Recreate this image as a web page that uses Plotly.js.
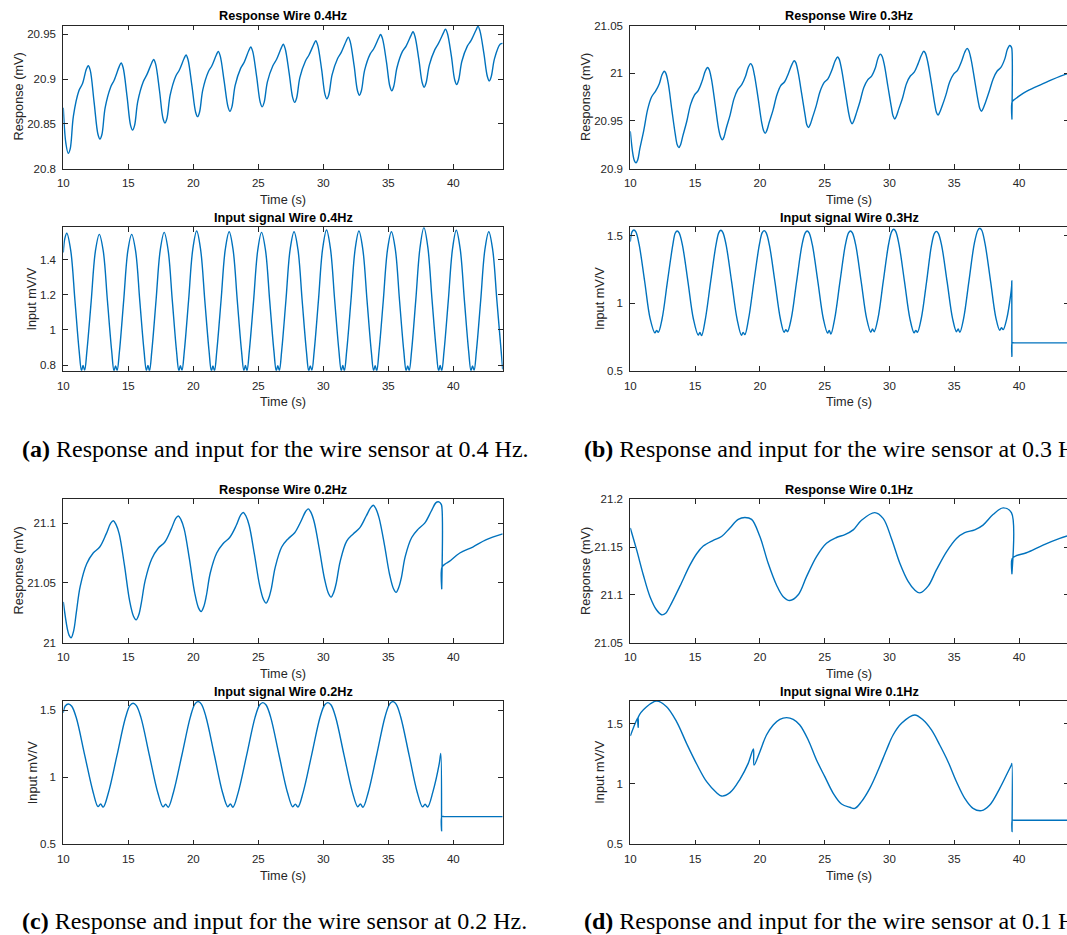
<!DOCTYPE html>
<html><head><meta charset="utf-8">
<script src="https://cdn.plot.ly/plotly-3.0.1.min.js"></script>
<style>html,body{margin:0;padding:0;overflow:hidden;background:#fff}#chart{width:1072px;height:935px}</style>
</head><body><div id="chart"></div>
<script>
// ---------- (a) 0.4 Hz ----------
const tRespA = [10.0, 10.2,
 10.38, 10.53, 10.78, 11.2, 11.48, 11.77, 11.92, 12.07, 12.37, 12.67,
 12.82, 12.97, 13.22, 13.64, 13.92, 14.3, 14.45, 14.6, 14.9, 15.18,
 15.33, 15.48, 15.73, 16.15, 16.43, 16.8, 16.95, 17.1, 17.4, 17.67,
 17.82, 17.97, 18.22, 18.64, 18.92, 19.29, 19.44, 19.59, 19.89, 20.18,
 20.33, 20.48, 20.73, 21.15, 21.43, 21.77, 21.92, 22.07, 22.37, 22.67,
 22.82, 22.97, 23.22, 23.64, 23.92, 24.27, 24.42, 24.57, 24.87, 25.15,
 25.3, 25.45, 25.7, 26.12, 26.4, 26.77, 26.92, 27.07, 27.37, 27.65,
 27.8, 27.95, 28.2, 28.62, 28.9, 29.27, 29.42, 29.57, 29.87, 30.13,
 30.28, 30.43, 30.68, 31.1, 31.38, 31.77, 31.92, 32.07, 32.37, 32.63,
 32.78, 32.93, 33.18, 33.6, 33.88, 34.26, 34.41, 34.56, 34.86, 35.12,
 35.27, 35.42, 35.67, 36.09, 36.37, 36.75, 36.9, 37.05, 37.35, 37.61,
 37.76, 37.91, 38.16, 38.58, 38.86, 39.25, 39.4, 39.55, 39.85, 40.11,
 40.26, 40.41, 40.66, 41.08, 41.36, 41.75, 41.9, 42.05, 42.35, 42.62,
 42.77, 42.92, 43.17, 43.6, 43.8];
const vRespA = [20.868, 20.828,
 20.817, 20.822, 20.859, 20.887, 20.895, 20.911, 20.915, 20.910, 20.874, 20.838,
 20.833, 20.838, 20.868, 20.891, 20.899, 20.914, 20.918, 20.913, 20.881, 20.848,
 20.843, 20.848, 20.875, 20.897, 20.905, 20.918, 20.922, 20.917, 20.887, 20.856,
 20.851, 20.856, 20.882, 20.903, 20.910, 20.923, 20.927, 20.922, 20.893, 20.863,
 20.858, 20.863, 20.888, 20.908, 20.915, 20.927, 20.931, 20.926, 20.898, 20.869,
 20.864, 20.869, 20.893, 20.912, 20.919, 20.932, 20.936, 20.931, 20.903, 20.874,
 20.869, 20.874, 20.897, 20.915, 20.922, 20.935, 20.939, 20.934, 20.907, 20.879,
 20.874, 20.879, 20.902, 20.920, 20.927, 20.939, 20.943, 20.938, 20.911, 20.883,
 20.878, 20.883, 20.905, 20.923, 20.930, 20.943, 20.947, 20.942, 20.915, 20.887,
 20.882, 20.887, 20.910, 20.928, 20.934, 20.946, 20.950, 20.945, 20.919, 20.892,
 20.887, 20.892, 20.913, 20.931, 20.937, 20.949, 20.953, 20.948, 20.922, 20.896,
 20.891, 20.896, 20.916, 20.933, 20.940, 20.952, 20.956, 20.951, 20.926, 20.899,
 20.894, 20.899, 20.920, 20.937, 20.943, 20.955, 20.959, 20.954, 20.929, 20.903,
 20.898, 20.903, 20.923, 20.939, 20.940];

const tInA = [10.0, 10.12,
 10.27, 10.57, 10.895, 11.22, 11.4, 11.52, 11.64, 11.82, 12.145, 12.47,
 12.77, 13.07, 13.395, 13.72, 13.9, 14.02, 14.14, 14.32, 14.645, 14.97,
 15.26, 15.56, 15.885, 16.21, 16.39, 16.51, 16.63, 16.81, 17.135, 17.46,
 17.76, 18.06, 18.385, 18.71, 18.89, 19.01, 19.13, 19.31, 19.635, 19.96,
 20.26, 20.56, 20.885, 21.21, 21.39, 21.51, 21.63, 21.81, 22.135, 22.46,
 22.76, 23.06, 23.385, 23.71, 23.89, 24.01, 24.13, 24.31, 24.635, 24.96,
 25.25, 25.55, 25.875, 26.2, 26.38, 26.5, 26.62, 26.8, 27.125, 27.45,
 27.75, 28.05, 28.375, 28.7, 28.88, 29.0, 29.12, 29.3, 29.625, 29.95,
 30.25, 30.55, 30.875, 31.2, 31.38, 31.5, 31.62, 31.8, 32.125, 32.45,
 32.74, 33.04, 33.365, 33.69, 33.87, 33.99, 34.11, 34.29, 34.615, 34.94,
 35.24, 35.54, 35.865, 36.19, 36.37, 36.49, 36.61, 36.79, 37.115, 37.44,
 37.74, 38.04, 38.365, 38.69, 38.87, 38.99, 39.11, 39.29, 39.615, 39.94,
 40.23, 40.53, 40.855, 41.18, 41.36, 41.48, 41.6, 41.78, 42.105, 42.43,
 42.73, 43.03, 43.355, 43.68, 43.8];
const vInA = [1.44, 1.52,
 1.549, 1.452, 1.168, 0.879, 0.768, 0.797, 0.770, 0.882, 1.162, 1.448,
 1.543, 1.450, 1.165, 0.881, 0.767, 0.795, 0.769, 0.878, 1.166, 1.452,
 1.543, 1.449, 1.163, 0.880, 0.769, 0.798, 0.767, 0.880, 1.168, 1.455,
 1.554, 1.455, 1.166, 0.878, 0.768, 0.796, 0.770, 0.879, 1.165, 1.458,
 1.562, 1.458, 1.167, 0.881, 0.767, 0.794, 0.768, 0.881, 1.167, 1.457,
 1.558, 1.456, 1.164, 0.879, 0.769, 0.797, 0.768, 0.880, 1.163, 1.454,
 1.554, 1.455, 1.166, 0.880, 0.768, 0.796, 0.769, 0.882, 1.168, 1.458,
 1.558, 1.457, 1.165, 0.878, 0.767, 0.795, 0.770, 0.879, 1.166, 1.462,
 1.568, 1.462, 1.168, 0.881, 0.768, 0.797, 0.768, 0.880, 1.165, 1.459,
 1.562, 1.458, 1.166, 0.879, 0.769, 0.796, 0.767, 0.881, 1.167, 1.456,
 1.558, 1.458, 1.165, 0.880, 0.768, 0.795, 0.769, 0.879, 1.170, 1.468,
 1.581, 1.470, 1.170, 0.882, 0.767, 0.797, 0.768, 0.880, 1.166, 1.460,
 1.566, 1.460, 1.166, 0.879, 0.768, 0.795, 0.770, 0.881, 1.165, 1.456,
 1.558, 1.455, 1.164, 0.880, 0.775];

// ---------- (b) 0.3 Hz ----------
const tRespB = [10.0, 10.2, 10.32,
 10.44, 10.57, 10.74, 11.04, 11.34, 11.64, 11.94, 12.24, 12.44, 12.62, 12.74, 12.92, 13.2, 13.47, 13.62,
 13.75, 13.88, 14.05, 14.35, 14.65, 14.95, 15.25, 15.55, 15.78, 15.96, 16.08, 16.26, 16.54, 16.81, 16.97,
 17.1, 17.23, 17.4, 17.7, 18.0, 18.3, 18.6, 18.9, 19.1, 19.28, 19.4, 19.58, 19.86, 20.13, 20.28,
 20.41, 20.54, 20.71, 21.01, 21.31, 21.61, 21.91, 22.21, 22.47, 22.65, 22.77, 22.95, 23.23, 23.5, 23.62,
 23.75, 23.88, 24.05, 24.35, 24.65, 24.95, 25.25, 25.55, 25.81, 25.99, 26.11, 26.29, 26.57, 26.84, 26.99,
 27.12, 27.25, 27.42, 27.72, 28.02, 28.32, 28.62, 28.92, 29.12, 29.3, 29.42, 29.6, 29.88, 30.15, 30.28,
 30.41, 30.54, 30.71, 31.01, 31.31, 31.61, 31.91, 32.21, 32.47, 32.65, 32.77, 32.95, 33.23, 33.5, 33.62,
 33.75, 33.88, 34.05, 34.35, 34.65, 34.95, 35.25, 35.55, 35.81, 35.99, 36.11, 36.29, 36.57, 36.84, 36.97,
 37.1, 37.23, 37.4, 37.7, 38.0, 38.3, 38.6, 38.9, 39.1, 39.28, 39.38, 39.44, 39.45, 39.47, 39.7, 40.0, 40.57, 41.2, 41.85, 42.5, 43.2, 43.8];
const vRespB = [20.939, 20.915, 20.908,
 20.906, 20.909, 20.921, 20.940, 20.962, 20.975, 20.981, 20.989, 20.998, 21.002, 21.000, 20.990, 20.962, 20.936, 20.925,
 20.922, 20.925, 20.934, 20.949, 20.967, 20.977, 20.982, 20.992, 21.002, 21.006, 21.004, 20.994, 20.968, 20.942, 20.933,
 20.930, 20.933, 20.942, 20.956, 20.973, 20.983, 20.988, 20.997, 21.006, 21.010, 21.008, 20.998, 20.974, 20.949, 20.940,
 20.937, 20.940, 20.948, 20.961, 20.977, 20.987, 20.991, 21.000, 21.009, 21.013, 21.011, 21.001, 20.978, 20.955, 20.946,
 20.943, 20.946, 20.953, 20.966, 20.981, 20.990, 20.994, 21.003, 21.013, 21.017, 21.015, 21.005, 20.982, 20.959, 20.950,
 20.947, 20.950, 20.957, 20.970, 20.985, 20.993, 20.997, 21.006, 21.016, 21.020, 21.018, 21.009, 20.986, 20.964, 20.955,
 20.952, 20.955, 20.962, 20.974, 20.989, 20.997, 21.001, 21.010, 21.019, 21.023, 21.021, 21.012, 20.990, 20.967, 20.959,
 20.956, 20.959, 20.965, 20.977, 20.991, 20.999, 21.003, 21.012, 21.022, 21.026, 21.024, 21.015, 20.993, 20.971, 20.963,
 20.960, 20.963, 20.969, 20.981, 20.994, 21.002, 21.006, 21.015, 21.025, 21.029, 21.028, 21.026, 20.952, 20.970, 20.973, 20.976, 20.981, 20.985, 20.989, 20.993, 20.997, 21.000];

const tInB = [10.0, 10.13,
 10.28, 10.43, 10.68, 11.11, 11.53, 11.9, 12.03, 12.16, 12.45, 12.86, 13.28,
 13.47, 13.62, 13.77, 14.02, 14.45, 14.87, 15.24, 15.37, 15.5, 15.79, 16.2, 16.62,
 16.84, 16.99, 17.14, 17.39, 17.82, 18.24, 18.58, 18.71, 18.84, 19.13, 19.54, 19.96,
 20.18, 20.33, 20.48, 20.73, 21.16, 21.58, 21.87, 22.0, 22.13, 22.42, 22.83, 23.25,
 23.5, 23.65, 23.8, 24.05, 24.48, 24.9, 25.22, 25.35, 25.48, 25.77, 26.18, 26.6,
 26.84, 26.99, 27.14, 27.39, 27.82, 28.24, 28.56, 28.69, 28.82, 29.11, 29.52, 29.94,
 30.18, 30.33, 30.48, 30.73, 31.16, 31.58, 31.9, 32.03, 32.16, 32.45, 32.86, 33.24,
 33.47, 33.62, 33.77, 34.02, 34.45, 34.87, 35.17, 35.3, 35.43, 35.72, 36.13, 36.55,
 36.82, 36.97, 37.12, 37.37, 37.8, 38.22, 38.51, 38.64, 38.77, 39.06, 39.35, 39.43, 39.44, 39.45, 39.47,
 39.6, 40.0, 41.0, 42.0, 43.0, 43.8];
const vInB = [1.458, 1.530,
 1.544, 1.530, 1.437, 1.162, 0.887, 0.781, 0.800, 0.785, 0.884, 1.158, 1.433,
 1.522, 1.537, 1.522, 1.434, 1.160, 0.884, 0.765, 0.785, 0.761, 0.882, 1.161, 1.438,
 1.527, 1.542, 1.527, 1.436, 1.159, 0.883, 0.763, 0.785, 0.768, 0.886, 1.162, 1.435,
 1.524, 1.539, 1.524, 1.434, 1.161, 0.886, 0.786, 0.805, 0.790, 0.887, 1.159, 1.434,
 1.522, 1.537, 1.522, 1.433, 1.158, 0.884, 0.780, 0.800, 0.773, 0.885, 1.161, 1.435,
 1.522, 1.537, 1.522, 1.435, 1.160, 0.887, 0.786, 0.810, 0.790, 0.888, 1.163, 1.442,
 1.534, 1.549, 1.534, 1.440, 1.161, 0.885, 0.781, 0.800, 0.786, 0.886, 1.158, 1.430,
 1.519, 1.534, 1.519, 1.432, 1.159, 0.887, 0.790, 0.810, 0.786, 0.887, 1.163, 1.445,
 1.542, 1.557, 1.542, 1.445, 1.165, 0.889, 0.800, 0.820, 0.805, 0.890, 1.060, 1.130, 1.167, 0.608, 0.707,
 0.707, 0.707, 0.707, 0.707, 0.707, 0.707];

// ---------- (c) 0.2 Hz ----------
const tRespC = [10.0, 10.3, 10.45,
 10.6, 10.8, 11.0, 11.3, 11.8, 12.3, 12.8, 13.3, 13.65, 13.85, 14.05, 14.3, 14.7, 15.1, 15.4,
 15.6, 15.8, 16.0, 16.3, 16.8, 17.3, 17.8, 18.3, 18.65, 18.85, 19.05, 19.3, 19.7, 20.1, 20.4,
 20.6, 20.8, 21.0, 21.3, 21.8, 22.3, 22.8, 23.3, 23.65, 23.85, 24.05, 24.3, 24.7, 25.1, 25.4,
 25.6, 25.8, 26.0, 26.3, 26.8, 27.3, 27.8, 28.3, 28.65, 28.85, 29.05, 29.3, 29.7, 30.1, 30.4,
 30.6, 30.8, 31.0, 31.3, 31.8, 32.3, 32.8, 33.3, 33.65, 33.85, 34.05, 34.3, 34.7, 35.1, 35.4,
 35.6, 35.8, 36.0, 36.3, 36.8, 37.3, 37.8, 38.3, 38.65, 38.85, 39.0, 39.1, 39.11, 39.13, 39.4, 39.7, 40.5, 41.5, 42.5, 43.8];
const vRespC = [21.034, 21.012, 21.006,
 21.004, 21.010, 21.025, 21.047, 21.066, 21.075, 21.080, 21.091, 21.100, 21.102, 21.099, 21.091, 21.065, 21.035, 21.022,
 21.019, 21.023, 21.033, 21.052, 21.070, 21.079, 21.084, 21.095, 21.104, 21.106, 21.103, 21.095, 21.070, 21.042, 21.029,
 21.026, 21.030, 21.039, 21.058, 21.075, 21.083, 21.088, 21.098, 21.107, 21.109, 21.106, 21.098, 21.074, 21.048, 21.036,
 21.033, 21.037, 21.045, 21.063, 21.080, 21.087, 21.092, 21.102, 21.110, 21.112, 21.109, 21.101, 21.078, 21.053, 21.041,
 21.038, 21.042, 21.050, 21.068, 21.085, 21.091, 21.096, 21.106, 21.113, 21.115, 21.112, 21.104, 21.082, 21.057, 21.045,
 21.042, 21.046, 21.054, 21.072, 21.088, 21.095, 21.100, 21.110, 21.117, 21.118, 21.117, 21.115, 21.045, 21.063, 21.066, 21.068, 21.075, 21.080, 21.086, 21.091];

const tInC = [10.0, 10.15,
 10.4, 10.65, 11.0, 11.65, 12.3, 12.67, 12.87, 13.07, 13.47, 14.12, 14.77,
 15.12, 15.37, 15.62, 15.97, 16.62, 17.27, 17.67, 17.87, 18.07, 18.47, 19.12, 19.77,
 20.12, 20.37, 20.62, 20.97, 21.62, 22.25, 22.65, 22.85, 23.05, 23.45, 24.1, 24.75,
 25.1, 25.35, 25.6, 25.95, 26.6, 27.25, 27.65, 27.85, 28.05, 28.45, 29.1, 29.75,
 30.1, 30.35, 30.6, 30.95, 31.6, 32.25, 32.65, 32.85, 33.05, 33.45, 34.1, 34.75,
 35.1, 35.35, 35.6, 35.95, 36.6, 37.23, 37.63, 37.83, 38.03, 38.43, 38.92, 39.04, 39.1, 39.12,
 39.3, 39.8, 41.0, 42.5, 43.8];
const vInC = [1.48, 1.53,
 1.545, 1.528, 1.442, 1.162, 0.886, 0.781, 0.800, 0.777, 0.884, 1.158, 1.438,
 1.532, 1.550, 1.532, 1.445, 1.163, 0.884, 0.779, 0.798, 0.776, 0.886, 1.163, 1.447,
 1.544, 1.562, 1.544, 1.450, 1.165, 0.886, 0.780, 0.800, 0.776, 0.885, 1.162, 1.445,
 1.537, 1.555, 1.537, 1.447, 1.163, 0.884, 0.779, 0.799, 0.777, 0.887, 1.164, 1.446,
 1.537, 1.555, 1.537, 1.446, 1.162, 0.885, 0.780, 0.800, 0.776, 0.884, 1.163, 1.450,
 1.544, 1.562, 1.544, 1.450, 1.164, 0.886, 0.779, 0.798, 0.778, 0.890, 1.100, 1.177, 0.600, 0.706,
 0.706, 0.706, 0.706, 0.706, 0.706];

// ---------- (d) 0.1 Hz ----------
const tRespD = [10.0, 10.49, 11.0, 11.52, 12.03, 12.42, 12.75, 13.06, 13.83, 14.6, 15.12, 15.63, 16.4, 17.04, 17.69, 18.33, 18.84, 19.36, 20.0, 20.64, 21.29, 21.8, 22.31, 22.96, 23.6, 24.37, 25.14, 25.91, 26.56, 27.2, 27.84, 28.87, 29.51, 30.15, 30.8, 31.44, 31.95, 32.34, 32.98, 33.62, 34.4, 35.17, 35.81, 36.58, 37.22, 37.99, 38.77, 39.41, 39.45, 39.47, 39.8, 40.57, 41.85, 43.14, 43.8];
const vRespD = [21.170, 21.147, 21.121, 21.098, 21.084, 21.079, 21.081, 21.088, 21.109, 21.131, 21.143, 21.151, 21.157, 21.161, 21.170, 21.179, 21.181, 21.179, 21.161, 21.133, 21.110, 21.098, 21.094, 21.100, 21.119, 21.140, 21.154, 21.160, 21.163, 21.168, 21.178, 21.186, 21.180, 21.159, 21.133, 21.114, 21.105, 21.102, 21.109, 21.126, 21.145, 21.159, 21.165, 21.168, 21.173, 21.184, 21.191, 21.186, 21.122, 21.138, 21.141, 21.144, 21.152, 21.159, 21.162];

const tInD = [10.0, 10.49, 10.6, 10.61, 10.62, 11.26, 12.03, 12.8, 13.57, 14.34, 15.12, 15.89, 16.66, 17.04, 17.69, 18.46, 19.1, 19.5, 19.55, 20.0, 20.51, 21.03, 21.54, 22.06, 22.57, 23.08, 23.73, 24.37, 25.01, 25.66, 26.3, 26.94, 27.33, 27.84, 28.48, 29.13, 29.77, 30.28, 30.93, 31.95, 32.6, 33.24, 33.88, 34.52, 35.17, 35.81, 36.45, 37.1, 37.74, 38.51, 39.15, 39.41, 39.45, 39.46, 39.48, 39.6, 40.0, 41.0, 42.5, 43.8];
const vInD = [1.398, 1.530, 1.550, 1.470, 1.555, 1.641, 1.688, 1.641, 1.517, 1.337, 1.166, 1.019, 0.928, 0.900, 0.928, 1.039, 1.171, 1.290, 1.157, 1.268, 1.406, 1.489, 1.536, 1.550, 1.536, 1.489, 1.365, 1.199, 1.061, 0.923, 0.834, 0.807, 0.798, 0.854, 0.964, 1.116, 1.282, 1.406, 1.503, 1.572, 1.530, 1.448, 1.323, 1.185, 1.019, 0.881, 0.798, 0.779, 0.826, 0.964, 1.102, 1.157, 1.171, 0.605, 0.700, 0.700, 0.700, 0.700, 0.700, 0.700];

// ---------- axes / tick labels ----------
const xTickVals = [10, 15, 20, 25, 30, 35, 40];
const xTickText = ['10', '15', '20', '25', '30', '35', '40'];
const yTicksRespA = [20.8, 20.85, 20.9, 20.95], yTextRespA = ['20.8', '20.85', '20.9', '20.95'];
const yTicksInA = [0.8, 1, 1.2, 1.4], yTextInA = ['0.8', '1', '1.2', '1.4'];
const yTicksRespB = [20.9, 20.95, 21, 21.05], yTextRespB = ['20.9', '20.95', '21', '21.05'];
const yTicksIn = [0.5, 1, 1.5], yTextIn = ['0.5', '1', '1.5'];
const yTicksRespC = [21, 21.05, 21.1], yTextRespC = ['21', '21.05', '21.1'];
const yTicksRespD = [21.05, 21.1, 21.15, 21.2], yTextRespD = ['21.05', '21.1', '21.15', '21.2'];

const titles = ['Response Wire 0.4Hz', 'Response Wire 0.3Hz', 'Input signal Wire 0.4Hz', 'Input signal Wire 0.3Hz',
                'Response Wire 0.2Hz', 'Response Wire 0.1Hz', 'Input signal Wire 0.2Hz', 'Input signal Wire 0.1Hz'];
const captions = [
  ['(a)', ' Response and input for the wire sensor at 0.4 Hz.'],
  ['(b)', ' Response and input for the wire sensor at 0.3 Hz.'],
  ['(c)', ' Response and input for the wire sensor at 0.2 Hz.'],
  ['(d)', ' Response and input for the wire sensor at 0.1 Hz.']
];

// ---------- layout geometry (pixels) ----------
const W = 1072, H = 935;
const colX = [[63.3, 502.7], [630.3, 1068.3]];
const rowY = [[25.5, 168.5], [227.3, 370.8], [499.3, 642.5], [701, 844.3]];
const px = v => v / W, py = v => 1 - v / H;

const panels = [
  {t: tRespA, v: vRespA, col: 0, row: 0, yr: [20.8, 20.96], tv: yTicksRespA, tt: yTextRespA, yl: 'Response (mV)', ylx: 18.5},
  {t: tRespB, v: vRespB, col: 1, row: 0, yr: [20.9, 21.05], tv: yTicksRespB, tt: yTextRespB, yl: 'Response (mV)', ylx: 586},
  {t: tInA, v: vInA, col: 0, row: 1, yr: [0.767, 1.583], tv: yTicksInA, tt: yTextInA, yl: 'Input mV/V', ylx: 32.5},
  {t: tInB, v: vInB, col: 1, row: 1, yr: [0.5, 1.564], tv: yTicksIn, tt: yTextIn, yl: 'Input mV/V', ylx: 600},
  {t: tRespC, v: vRespC, col: 0, row: 2, yr: [21.0, 21.12], tv: yTicksRespC, tt: yTextRespC, yl: 'Response (mV)', ylx: 18.5},
  {t: tRespD, v: vRespD, col: 1, row: 2, yr: [21.05, 21.2], tv: yTicksRespD, tt: yTextRespD, yl: 'Response (mV)', ylx: 586},
  {t: tInC, v: vInC, col: 0, row: 3, yr: [0.5, 1.567], tv: yTicksIn, tt: yTextIn, yl: 'Input mV/V', ylx: 32.5},
  {t: tInD, v: vInD, col: 1, row: 3, yr: [0.5, 1.688], tv: yTicksIn, tt: yTextIn, yl: 'Input mV/V', ylx: 600}
];

const AX = '#262626';
const tickFont = {family: 'Liberation Sans, Arial, sans-serif', size: 11.5, color: AX};
const labFont = {family: 'Liberation Sans, Arial, sans-serif', size: 12.7, color: AX};
const data = [], annotations = [];
const layout = {
  width: W, height: H, margin: {l: 0, r: 0, t: 0, b: 0},
  paper_bgcolor: '#fff', plot_bgcolor: '#fff', showlegend: false
};

panels.forEach((p, i) => {
  const n = i + 1, sfx = n === 1 ? '' : String(n);
  const xs = colX[p.col], ys = rowY[p.row];
  data.push({
    type: 'scatter', mode: 'lines', x: p.t, y: p.v,
    xaxis: 'x' + sfx, yaxis: 'y' + sfx,
    line: {color: '#0072BD', width: 1.4, shape: 'spline', smoothing: 1},
    hoverinfo: 'skip'
  });
  const common = {showline: true, linecolor: AX, linewidth: 1, mirror: 'ticks', ticks: 'inside',
    ticklen: 4.5, tickcolor: AX, tickwidth: 1, showgrid: false, zeroline: false, tickfont: tickFont};
  layout['xaxis' + sfx] = Object.assign({}, common, {
    domain: [px(xs[0]), px(xs[1])], range: [10, 43.8], anchor: 'y' + sfx,
    tickmode: 'array', tickvals: xTickVals, ticktext: xTickText, ticklabelstandoff: 4
  });
  layout['yaxis' + sfx] = Object.assign({}, common, {
    domain: [py(ys[1]), py(ys[0])], range: p.yr, anchor: 'x' + sfx,
    tickmode: 'array', tickvals: p.tv, ticktext: p.tt, ticklabelstandoff: 4
  });
  const cx = (xs[0] + xs[1]) / 2;
  annotations.push({xref: 'paper', yref: 'paper', x: px(cx), y: py(ys[0] - 9.5), text: '<b>' + titles[i] + '</b>',
    showarrow: false, xanchor: 'center', yanchor: 'middle',
    font: {family: 'Liberation Sans, Arial, sans-serif', size: 12.7, color: '#000'}});
  annotations.push({xref: 'paper', yref: 'paper', x: px(cx), y: py(ys[1] + 31.5), text: 'Time (s)',
    showarrow: false, xanchor: 'center', yanchor: 'middle', font: labFont});
  annotations.push({xref: 'paper', yref: 'paper', x: px(p.ylx), y: py((ys[0] + ys[1]) / 2), text: p.yl,
    showarrow: false, xanchor: 'center', yanchor: 'middle', textangle: -90, font: labFont});
});

const capPos = [[20, 449], [582, 449], [20, 921], [582, 921]];
captions.forEach((c, i) => {
  annotations.push({xref: 'paper', yref: 'paper', x: px(capPos[i][0]), y: py(capPos[i][1]),
    text: '<b>' + c[0] + '</b>' + c[1], showarrow: false, xanchor: 'left', yanchor: 'middle',
    font: {family: 'Liberation Serif, Times New Roman, serif', size: 24, color: '#000'}});
});
layout.annotations = annotations;

Plotly.newPlot('chart', data, layout, {displayModeBar: false, staticPlot: true});
</script>
</body></html>
